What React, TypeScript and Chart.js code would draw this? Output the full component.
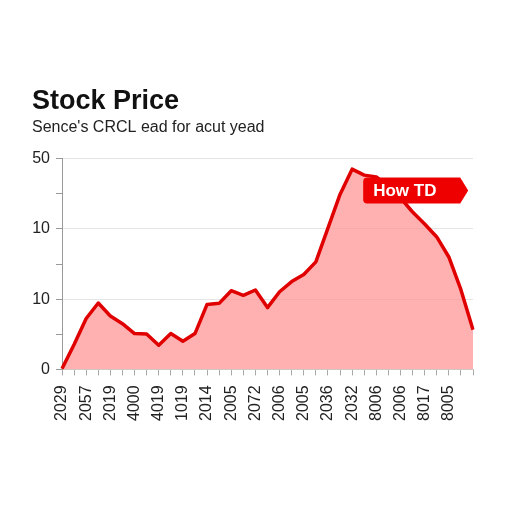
import React, { useEffect, useRef } from "react";
import { Chart, registerables } from "chart.js";

Chart.register(...registerables);

const titleText = "Stock Price";
const subtitleText = "Sence's CRCL ead for acut yead";

// 35 evenly spaced observations; every other one carries a tick label
const prices = [
  0.2, 7.1, 14.5, 18.9, 15.2, 13.0, 10.2, 10.1, 6.9, 10.2,
  8.0, 10.2, 18.5, 18.8, 22.4, 21.1, 22.6, 17.6, 22.1, 25.0,
  27.0, 30.6, 40.2, 49.8, 57.0, 55.3, 54.8, 52.1, 48.8, 44.8,
  41.4, 37.7, 32.0, 22.7, 11.3,
];
const xTickLabels = [
  "2029", "2057", "2019", "4000", "4019", "1019", "2014", "2005", "2072",
  "2006", "2005", "2036", "2032", "8006", "2006", "8017", "8005",
];
const yTickValues = [0, 20, 40, 60];
const yTickLabels = ["0", "10", "10", "50"];
const calloutIndex = 25;
const calloutText = "How TD";

const FONT = "'Liberation Sans', Arial, Helvetica, sans-serif";

const calloutPlugin = {
  id: "callout",
  afterDatasetsDraw(chart: any) {
    const pt = chart.getDatasetMeta(0).data[calloutIndex];
    if (!pt) return;
    const ctx = chart.ctx;
    const left = pt.x - 1;
    const top = pt.y + 2.5;
    const h = 26;
    const w = 97;
    const tip = 8;
    const r = 4;
    ctx.save();
    ctx.fillStyle = "#ee0000";
    ctx.beginPath();
    ctx.moveTo(left + r, top);
    ctx.lineTo(left + w, top);
    ctx.lineTo(left + w + tip, top + h / 2);
    ctx.lineTo(left + w, top + h);
    ctx.lineTo(left + r, top + h);
    ctx.quadraticCurveTo(left, top + h, left, top + h - r);
    ctx.lineTo(left, top + r);
    ctx.quadraticCurveTo(left, top, left + r, top);
    ctx.closePath();
    ctx.fill();
    ctx.fillStyle = "#ffffff";
    ctx.font = `bold 17px ${FONT}`;
    ctx.textBaseline = "middle";
    ctx.textAlign = "left";
    ctx.fillText(calloutText, left + 10, top + h / 2 + 1);
    ctx.restore();
  },
};

export default function App() {
  const ref = useRef<HTMLCanvasElement>(null);
  useEffect(() => {
    if (!ref.current) return;
    const labels = prices.map((_, i) => String(i));
    const chart = new Chart(ref.current, {
      type: "line",
      data: {
        labels,
        datasets: [
          {
            data: prices,
            borderColor: "#e00000",
            borderWidth: 3.5,
            backgroundColor: "rgba(255, 150, 150, 0.75)",
            fill: "origin",
            pointRadius: 0,
            tension: 0,
            borderJoinStyle: "round",
          },
        ],
      },
      options: {
        animation: false,
        responsive: true,
        maintainAspectRatio: false,
        layout: { padding: { left: 24, right: 31, top: 77, bottom: 73 } },
        plugins: {
          legend: { display: false },
          tooltip: { enabled: false },
          title: {
            display: true,
            text: titleText,
            align: "start",
            color: "#111111",
            font: { family: FONT, size: 27, weight: "bold" },
            padding: { top: 0, bottom: 1 },
          },
          subtitle: {
            display: true,
            text: subtitleText,
            align: "start",
            color: "#222222",
            font: { family: FONT, size: 16 },
            padding: { top: 0, bottom: 21 },
          },
        },
        scales: {
          x: {
            type: "category",
            offset: false,
            grid: {
              drawOnChartArea: false,
              drawTicks: true,
              tickLength: 6,
              tickColor: "#aaaaaa",
            },
            border: { display: true, color: "#cccccc" },
            ticks: {
              autoSkip: false,
              minRotation: 90,
              maxRotation: 90,
              color: "#222222",
              font: { family: FONT, size: 16 },
              padding: 10,
              callback: (_v: any, i: number) => (i % 2 === 0 ? xTickLabels[i / 2] ?? "" : ""),
            },
          },
          y: {
            min: 0,
            max: 60,
            afterFit: (scale: any) => {
              scale.width = 30;
            },
            grid: {
              color: (c: any) =>
                c.tick && yTickValues.includes(c.tick.value) && c.tick.value !== 0
                  ? "#e4e4e4"
                  : "rgba(0,0,0,0)",
              tickColor: "#999999",
              tickLength: 6,
            },
            border: { display: true, color: "#999999" },
            ticks: {
              stepSize: 10,
              color: "#222222",
              font: { family: FONT, size: 16 },
              padding: 6,
              callback: (v: any) => {
                const k = yTickValues.indexOf(Number(v));
                return k >= 0 ? yTickLabels[k] : "";
              },
            },
          },
        },
      },
      plugins: [calloutPlugin],
    });
    return () => chart.destroy();
  }, []);
  return (
    <div style={{ width: 496, height: 496, position: "relative" }}>
      <canvas ref={ref} />
    </div>
  );
}
